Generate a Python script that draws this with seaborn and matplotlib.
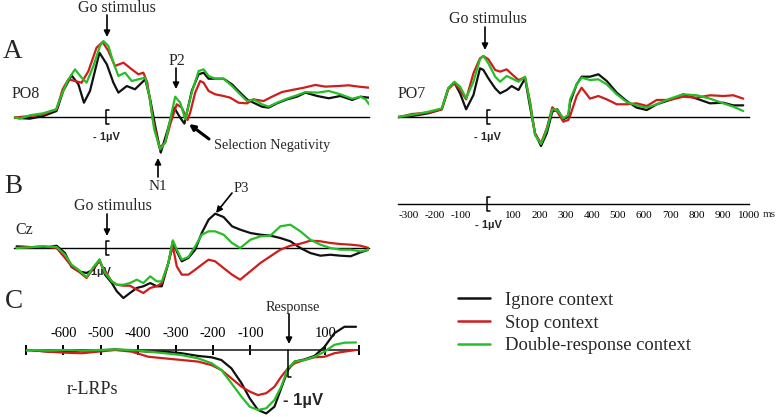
import matplotlib
matplotlib.use("Agg")
import matplotlib.pyplot as plt
from matplotlib.lines import Line2D
import pandas as pd
import seaborn as sns

sns.set_style("white")
plt.rcParams["font.family"] = ["Liberation Serif", "DejaVu Serif"]

W, H = 778, 417

CONTEXTS = ["Ignore context", "Stop context", "Double-response context"]
PALETTE = {"Ignore context": "#111111",
           "Stop context": "#cf1c1c",
           "Double-response context": "#26be26"}

# ---- A: PO8 (ms, microvolts) ----
po8_ignore_ms = [-353, -290, -239, -188, -163, -131, -105, -84, -61, -25, 3, 28, 47, 79, 110, 149, 168, 187,
                 208, 231, 259, 282, 298, 326, 352, 371, 390, 415, 447, 479, 510, 536, 561, 593, 618, 650,
                 688, 726, 758, 803, 847, 891, 936, 968, 1000]
po8_ignore_uv = [-0.06, -0.14, 0.08, 0.5, 2.17, 3.47, 2.72, 1.19, 2.17, 5.36, 4.39, 2.86, 2.03, 2.58, 2.31,
                 3.14, 1.47, -0.75, -2.97, -1.31, 0.78, -0.06, -0.55, 2.17, 3.56, 3.69, 3.19, 3.19, 3.19,
                 2.72, 2.03, 1.47, 1.19, 0.86, 0.78, 1.14, 1.47, 1.69, 2.03, 1.75, 1.56, 1.75, 1.42, 1.69, 1.61]
po8_stop_ms = [-353, -290, -239, -188, -165, -143, -118, -93, -67, -36, -13, 9, 34, 66, 98, 123, 142, 157,
               178, 203, 225, 246, 269, 288, 310, 320, 339, 358, 371, 390, 415, 447, 472, 504, 536, 561, 599,
               631, 669, 707, 752, 796, 834, 879, 923, 961, 1000]
po8_stop_uv = [-0.06, 0.08, 0.22, 0.64, 2.31, 3.14, 3.0, 2.86, 3.83, 5.78, 6.25, 5.5, 4.25, 4.53, 3.97, 3.56,
               3.69, 2.86, -0.19, -2.56, -2.14, -0.47, 1.06, 0.78, -0.25, 0.36, 2.03, 3.0, 2.86, 2.17, 1.89,
               1.75, 1.61, 1.19, 1.14, 1.47, 1.33, 1.69, 2.08, 2.25, 2.44, 2.67, 2.53, 2.58, 2.64, 2.53, 2.44]
po8_double_ms = [-353, -328, -290, -239, -190, -163, -143, -118, -93, -74, -48, -23, -10, 9, 28, 47, 72, 98,
                 123, 149, 165, 183, 206, 225, 244, 263, 282, 301, 326, 352, 371, 390, 415, 447, 479, 510,
                 536, 561, 593, 618, 650, 688, 726, 758, 803, 847, 891, 936, 968, 987, 1000]
po8_double_uv = [0.0, -0.14, 0.14, 0.31, 0.64, 2.17, 3.14, 3.97, 3.28, 2.86, 4.25, 5.92, 6.33, 5.92, 4.53,
                 3.42, 3.69, 3.0, 3.14, 3.28, 1.75, -1.03, -2.69, -2.14, -0.19, 1.69, 1.19, -0.19, 2.03, 3.83,
                 3.97, 3.42, 3.19, 3.19, 2.58, 1.89, 1.33, 1.47, 1.06, 0.86, 1.19, 1.53, 1.81, 2.08, 2.03,
                 2.17, 1.89, 1.53, 1.69, 1.47, 1.06]

# ---- A: PO7 ----
po7_ms = [-339, -287, -224, -173, -148, -125, -103, -80, -52, -27, -14, 5, 31, 50, 75, 94, 120, 145, 164,
          183, 206, 228, 249, 268, 291, 310, 317, 342, 361, 393, 425, 457, 495, 533, 571, 610, 648, 698,
          749, 800, 851, 902, 940, 978]
po7_ignore_uv = [0.0, 0.08, 0.31, 0.64, 2.39, 2.86, 1.97, 0.64, 1.83, 4.06, 3.92, 3.22, 2.39, 1.97, 2.25,
                 2.58, 2.25, 3.22, 0.86, -1.36, -2.42, -1.36, 0.44, 0.64, -0.19, 0.03, 1.19, 2.72, 3.36,
                 3.36, 3.56, 3.0, 2.03, 1.33, 0.78, 0.58, 1.06, 1.42, 1.89, 1.53, 1.14, 1.19, 0.97, 0.97]
po7_stop_uv = [-0.03, 0.25, 0.36, 0.64, 2.31, 2.81, 2.25, 1.47, 3.64, 4.89, 5.08, 4.81, 3.92, 3.78, 3.97,
               3.58, 3.08, 3.31, 1.28, -1.36, -2.19, -0.94, 0.81, 0.44, -0.39, -0.25, 0.08, 1.75, 2.44,
               1.53, 1.75, 1.47, 1.06, 1.06, 1.14, 0.92, 1.42, 1.42, 1.69, 1.61, 1.81, 1.75, 1.81, 1.53]
po7_double_uv = [0.03, 0.17, 0.44, 0.72, 2.39, 2.94, 2.53, 1.56, 2.94, 4.81, 5.08, 4.47, 3.36, 2.94, 3.42,
                 3.22, 2.94, 3.36, 1.14, -1.5, -2.25, -1.08, 0.64, 0.58, -0.11, 0.17, 1.47, 2.72, 3.28,
                 3.08, 3.14, 2.72, 1.89, 1.25, 0.97, 0.78, 1.06, 1.53, 1.89, 1.81, 1.53, 1.14, 0.86, 0.5]

# ---- B: Cz ----
cz_ms = [-340, -290, -239, -188, -156, -131, -105, -74, -48, -25, -4, 22, 41, 66, 91, 117, 142, 168, 193,
         212, 237, 254, 269, 288, 313, 339, 364, 390, 415, 447, 479, 510, 549, 587, 625, 663, 701, 739, 777,
         815, 853, 891, 930, 968, 999]
cz_ignore_uv = [0.14, 0.08, 0.0, 0.19, -0.42, -1.58, -1.94, -2.08, -1.81, -0.97, -2.22, -2.92, -3.61, -4.17,
                -3.75, -3.33, -3.19, -2.92, -3.19, -3.19, -1.25, 0.56, -0.28, -1.11, -0.83, -0.14, 1.25,
                2.36, 2.86, 2.58, 1.81, 1.53, 1.25, 1.11, 1.03, 0.83, 0.56, 0.0, -0.42, -0.64, -0.56,
                -0.64, -0.69, -0.36, -0.14]
cz_stop_uv = [0.0, 0.06, 0.14, 0.0, -0.83, -1.53, -1.94, -2.5, -1.67, -1.11, -1.94, -2.78, -3.06, -3.14,
              -3.14, -3.47, -3.75, -3.33, -3.19, -2.92, -1.25, 0.14, -1.53, -2.22, -2.22, -1.81, -1.39,
              -0.97, -1.11, -1.67, -2.22, -2.64, -1.94, -1.25, -0.69, -0.14, 0.19, 0.36, 0.61, 0.56, 0.42,
              0.33, 0.28, 0.19, 0.0]
cz_double_uv = [0.0, 0.06, 0.14, 0.08, -0.56, -1.39, -1.81, -2.42, -1.58, -0.97, -2.08, -2.78, -3.06, -3.06,
                -2.92, -2.64, -2.92, -2.36, -2.78, -2.78, -1.25, 0.64, -0.14, -0.97, -0.75, 0.14, 1.11,
                1.39, 1.39, 1.11, 0.42, 0.0, 0.69, 0.97, 1.03, 1.81, 1.94, 1.39, 0.69, 0.28, 0.0, -0.14,
                -0.14, -0.28, -0.14]

# ---- C: response-locked LRPs ----
lrp_ms = [-700, -676, -640, -596, -551, -507, -462, -418, -373, -329, -284, -240, -204, -178, -151, -124,
          -102, -80, -58, -36, -18, 0, 18, 44, 71, 98, 124, 151, 182]
lrp_ignore_uv = [0.0, -0.02, -0.06, -0.06, -0.02, -0.02, 0.02, -0.02, -0.06, -0.06, -0.12, -0.22, -0.27,
                 -0.37, -0.68, -1.23, -1.79, -2.22, -2.35, -2.1, -1.42, -0.74, -0.43, -0.35, -0.22, 0.12,
                 0.62, 0.86, 0.86]
lrp_stop_uv = [0.0, -0.02, -0.06, -0.1, -0.12, -0.06, 0.0, -0.06, -0.25, -0.31, -0.37, -0.43, -0.56, -0.74,
               -1.05, -1.36, -1.54, -1.67, -1.6, -1.36, -0.99, -0.68, -0.49, -0.37, -0.27, -0.25, -0.12,
               -0.06, 0.0]
lrp_double_uv = [-0.02, 0.0, -0.02, 0.0, -0.02, 0.0, 0.02, 0.0, -0.06, -0.12, -0.19, -0.31, -0.49, -0.74,
                 -1.23, -1.73, -2.1, -2.22, -2.16, -1.85, -1.36, -0.68, -0.43, -0.37, -0.25, -0.06, 0.19,
                 0.27, 0.28]

stim_ticks = [-300, -200, -100, 100, 200, 300, 400, 500, 600, 700, 800, 900, 1000]
lrp_ticks = [-700, -600, -500, -400, -300, -200, -100, 100, 190]
lrp_tick_labels = ["", "-600", "-500", "-400", "-300", "-200", "-100", "100", ""]


def to_long(curves):
    frames = [pd.DataFrame({"ms": ms, "uV": uv, "context": ctx}) for ctx, (ms, uv) in zip(CONTEXTS, curves)]
    return pd.concat(frames, ignore_index=True)


fig = plt.figure(figsize=(W / 100, H / 100), dpi=100)


def panel(px_left, px_right, t_left, t_right, px_base, px_per_uv, px_top, px_bottom):
    # axes placed so that time / amplitude map onto the original pixel layout
    ax = fig.add_axes([px_left / W, 1 - px_bottom / H, (px_right - px_left) / W, (px_bottom - px_top) / H])
    ax.set_xlim(t_left, t_right)
    ax.set_ylim((px_base - px_bottom) / px_per_uv, (px_base - px_top) / px_per_uv)
    ax.patch.set_alpha(0)
    for s in ["left", "right", "top"]:
        ax.spines[s].set_visible(False)
    ax.spines["bottom"].set_position(("data", 0))
    ax.spines["bottom"].set_linewidth(1.0)
    ax.spines["bottom"].set_color("k")
    ax.set_yticks([])
    ax.set_xlabel("")
    ax.set_ylabel("")
    ax.tick_params(axis="x", direction="inout", length=6, width=1, colors="k", labelsize=8, pad=2)
    return ax


def draw(ax, curves):
    sns.lineplot(data=to_long(curves), x="ms", y="uV", hue="context", hue_order=CONTEXTS,
                 palette=PALETTE, estimator=None, sort=False, legend=False, lw=1.6, ax=ax, zorder=3)
    ax.set_xlabel("")
    ax.set_ylabel("")


def bracket(ax, half, serif):
    ax.plot([serif, 0, 0, serif], [half, half, -half, -half], color="k", lw=1.1, zorder=4)


# PO8
ax1 = panel(14, 369, -350, 1000, 117, 12, 20, 170)
draw(ax1, [(po8_ignore_ms, po8_ignore_uv), (po8_stop_ms, po8_stop_uv), (po8_double_ms, po8_double_uv)])
ax1.set_xticks(stim_ticks[1:])
ax1.set_xticklabels([])
bracket(ax1, 0.58, 11)

# PO7
ax2 = panel(398, 749, -340, 1000, 117, 12, 20, 170)
draw(ax2, [(po7_ms, po7_ignore_uv), (po7_ms, po7_stop_uv), (po7_ms, po7_double_uv)])
ax2.set_xticks(stim_ticks)
ax2.set_xticklabels([])
bracket(ax2, 0.58, 11)

# time axis with labels under PO7
ax3 = panel(398, 749, -340, 1000, 204, 12, 190, 230)
ax3.set_xticks(stim_ticks)
ax3.set_xticklabels([str(t) for t in stim_ticks], family="Liberation Serif", fontsize=8)
bracket(ax3, 0.58, 11)

# Cz
ax4 = panel(14, 369, -350, 1000, 248, 12, 190, 305)
draw(ax4, [(cz_ms, cz_ignore_uv), (cz_ms, cz_stop_uv), (cz_ms, cz_double_uv)])
ax4.set_xticks(stim_ticks)
ax4.set_xticklabels([])
bracket(ax4, 0.58, 11)
ax4.text(-34, -1.98, "- 1µV", family="Liberation Sans", fontweight="bold", fontsize=8,
         ha="center", va="center", zorder=1)

# LRP
ax5 = panel(26, 359, -700, 190, 350, 27, 318, 417)
draw(ax5, [(lrp_ms, lrp_ignore_uv), (lrp_ms, lrp_stop_uv), (lrp_ms, lrp_double_uv)])
ax5.spines["bottom"].set_visible(False)
ax5.spines["top"].set_visible(True)
ax5.spines["top"].set_position(("data", 0))
ax5.spines["top"].set_linewidth(1.2)
ax5.xaxis.set_ticks_position("top")
ax5.set_xticks(lrp_ticks)
ax5.set_xticklabels(lrp_tick_labels, family="Liberation Serif", fontsize=10.5)
ax5.tick_params(axis="x", direction="inout", length=7, width=1.4, pad=4)
ax5.plot([0, 0, 9], [0, -1, -1], color="k", lw=1.1, zorder=4)

# overlay in pixel coordinates for labels and arrows
ov = fig.add_axes([0, 0, 1, 1])
ov.set_xlim(0, W)
ov.set_ylim(H, 0)
ov.axis("off")
ov.patch.set_alpha(0)


def txt(x, y, s, size, **kw):
    ov.text(x, y, s, fontsize=size, ha=kw.pop("ha", "center"), va="center", **kw)


def arrow(x0, y0, x1, y1, lw=1.2, ms=9):
    ov.annotate("", xy=(x1, y1), xytext=(x0, y0),
                arrowprops=dict(arrowstyle="-|>", color="k", lw=lw, mutation_scale=ms,
                                shrinkA=0, shrinkB=0))


sans = dict(family="Liberation Sans", fontweight="bold")

txt(13, 51, "A", 19.5)
txt(13, 186, "B", 19.5)
txt(14, 302, "C", 19.5)

txt(117, 8, "Go stimulus", 11.5)
arrow(107, 15, 107, 37)
txt(26, 94, "PO8", 11.5)
txt(177, 61, "P2", 11.5)
arrow(176, 68, 176, 89)
txt(272, 146, "Selection Negativity", 10.3)
arrow(209, 139, 189, 124, lw=2.2, ms=8)
txt(158, 186, "N1", 11)
arrow(158, 177, 158, 158)
txt(106, 137, "- 1µV", 8, **sans)

txt(488, 19, "Go stimulus", 11.5)
arrow(485, 27, 485, 50)
txt(412, 94, "PO7", 11.5)
txt(487, 137, "- 1µV", 8, **sans)
txt(763, 214, "ms", 8, ha="left")
txt(488, 225, "- 1µV", 8, **sans)

txt(113, 206, "Go stimulus", 11.5)
arrow(107, 214, 107, 236)
txt(24, 230, "Cz", 11.5)
txt(241, 188, "P3", 10.5)
arrow(232, 193, 216, 213)

txt(293, 307, "Response", 10.3)
arrow(289, 314, 289, 344)
txt(92, 389, "r-LRPs", 13)
txt(303, 400, "- 1µV", 12, **sans)

handles = [Line2D([], [], color=PALETTE[c], lw=1.8) for c in CONTEXTS]
fig.legend(handles, CONTEXTS, loc="center left", bbox_to_anchor=(458 / W, 1 - 323 / H),
           frameon=False, fontsize=13.4, handlelength=1.72, handletextpad=0.8,
           labelspacing=0.3, borderpad=0, borderaxespad=0)

fig.savefig("out.png", dpi=100)
